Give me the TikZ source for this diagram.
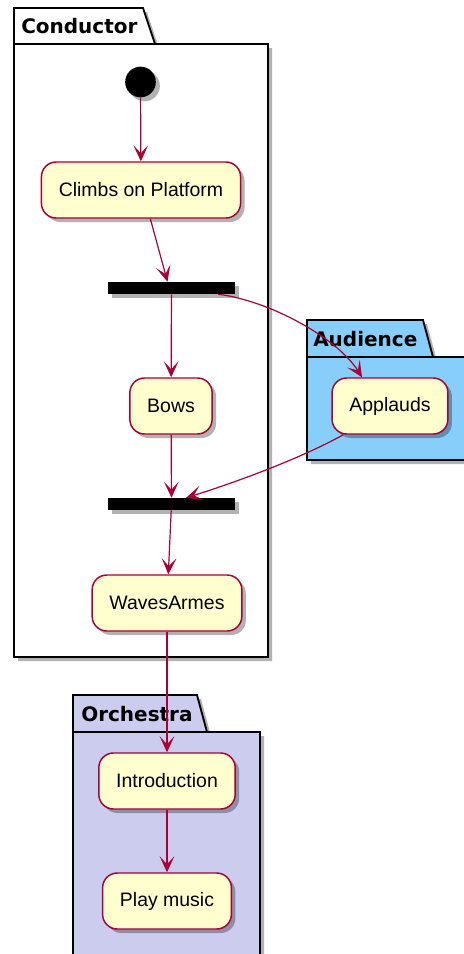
\documentclass[tikz,border=0pt]{standalone}
\usepackage{fontspec}
\setmainfont{Liberation Sans}
\newfontfamily\pkgfont{DejaVu Sans}
\usetikzlibrary{arrows.meta, shadows}
\definecolor{actfill}{HTML}{FEFECE}
\definecolor{actline}{HTML}{A80036}
\definecolor{audfill}{HTML}{87CEFA}
\definecolor{orchfill}{HTML}{CCCCEE}
\tikzset{
  dropsh/.style   = {drop shadow={shadow xshift=3pt, shadow yshift=-3pt, fill=black, opacity=0.3}},
  activ/.style    = {rectangle, rounded corners=11pt, draw=actline, line width=1.1pt, fill=actfill, inner xsep=13pt, minimum height=42pt, font=\fontsize{14.6}{17}\selectfont, dropsh},
  forkbar/.style  = {rectangle, fill=black, minimum width=95pt, minimum height=9pt, inner sep=0, dropsh},
  startpt/.style  = {circle, fill=black, minimum size=23pt, inner sep=0, dropsh},
  pkg/.style      = {draw=black, line width=1.4pt, dropsh},
  pkgline/.style  = {draw=black, line width=1.4pt},
  pkgtitle/.style = {anchor=west, inner sep=0, font=\pkgfont\bfseries\fontsize{15}{18}\selectfont},
  flow/.style     = {draw=actline, line width=0.9pt, -{Stealth[length=12pt, width=11pt, inset=6pt]}}
}
\begin{document}
\begin{tikzpicture}[x=0.75pt, y=-0.75pt]
  \useasboundingbox (0,0) rectangle (464,954);

  % ---------- partitions ----------
  \path[pkg, fill=white] (14,657) -- (14,8) -- (143,8) -- (155,44) -- (268,44) -- (268,657) -- cycle;
  \path[pkgline] (14,44) -- (155,44);
  \node[pkgtitle] (condT) at (21,26) {Conductor};

  \path[pkg, fill=audfill] (307,460) -- (307,320) -- (423,320) -- (433,357) -- (470,357) -- (470,460) -- cycle;
  \path[pkgline] (307,357) -- (433,357);
  \node[pkgtitle] (audT) at (313,339) {Audience};

  \path[pkg, fill=orchfill] (73,965) -- (73,695) -- (197,695) -- (207,732) -- (260,732) -- (260,965) -- cycle;
  \path[pkgline] (73,732) -- (207,732);
  \node[pkgtitle] (orchT) at (81,714) {Orchestra};

  % ---------- Conductor ----------
  \node[startpt] (start) at (140.5,82) {};
  \node[activ] (climbs) at (141,190) {Climbs on Platform};
  \node[forkbar] (barA) at (171.5,288) {};
  \node[activ] (bows) at (171,406) {Bows};
  \node[forkbar] (barB) at (171.5,504) {};
  \node[activ] (waves) at (167,603) {WavesArmes};

  % ---------- Audience ----------
  \node[activ] (appl) at (390,406) {Applauds};

  % ---------- Orchestra ----------
  \node[activ] (intro) at (167,781) {Introduction};
  \node[activ] (play) at (167,901) {Play music};

  % ---------- flows ----------
  \draw[flow] (start) -- (climbs);
  \draw[flow] ([xshift=7pt]climbs.south) -- ([xshift=-3pt]barA.north);
  \draw[flow] (barA) -- (bows);
  \draw[flow] (bows) -- (barB);
  \draw[flow] ([xshift=35pt]barA.south) .. controls +(50,6) and +(-25,-40) .. ([xshift=-21pt]appl.north);
  \draw[flow] ([xshift=-35pt]appl.south) .. controls +(-45,25) and +(45,-14) .. ([xshift=11pt]barB.north);
  \draw[flow] (barB) -- (waves);
  \draw[flow] (waves) -- (intro);
  \draw[flow] (intro) -- (play);

\end{tikzpicture}
\end{document}
